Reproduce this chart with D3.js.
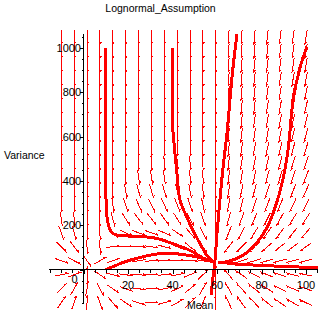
<!DOCTYPE html>
<html><head><meta charset="utf-8">
<script src="https://cdn.jsdelivr.net/npm/d3@7"></script>
<style>
body{margin:0;background:#fff}
svg{display:block}
text{font-family:"Liberation Sans",Arial,Helvetica,sans-serif;fill:#000}
</style>
</head><body>
<svg id="chart" width="322" height="322"></svg>
<script>
// ---------- data ----------
const title = "Lognormal_Assumption";
const xLabel = "Mean";
const yLabel = "Variance";
const xTickLabels = [0, 20, 40, 60, 80, 100];
const yTickLabels = [200, 400, 600, 800, 1000];

// direction-field grid (means across, variances up)
const gridMeans = [-10, -4.21, 1.58, 7.37, 13.16, 18.95, 24.74, 30.53, 36.32, 42.11,
                   47.89, 53.68, 59.47, 65.26, 71.05, 76.84, 82.63, 88.42, 94.21, 100];
const gridVariances = [-150, -86.8, -23.7, 39.5, 102.6, 165.8, 228.9, 292.1, 355.3, 418.4,
                       481.6, 544.7, 607.9, 671.1, 734.2, 797.4, 860.5, 923.7, 986.8, 1050];
// flow direction (degrees, 0 = right, 90 = up), one row per variance level
const fieldAngles = [
  [55, 70, 85, -70, -50, -35, -18, 0, 15, 30, 45, 65, 90, 115, 125, 134, 140, 146, 150, 154],
  [45, 60, 80, -62, -35, -20, -8, 3, 12, 25, 38, 60, 90, 120, 132, 142, 148, 153, 157, 160],
  [12, 20, 90, -35, -15, -8, -4, 0, 5, 12, 22, 43, 90, 130, 145, 152, 158, 162, 165, 168],
  [-20, -27, -55, 30, 18, 14, 10, 6, 3, 0, -3, -9, -90, -160, -162, -163, -164, -165, -165, -166],
  [-45, -53, -88, -85, 5, 0, -3, -8, -15, -22, -40, -55, -90, -128, -135, -138, -140, -142, -143, -144],
  [-70, -75, -90, -88, -45, -25, -20, -20, -24, -35, -50, -62, -90, -112, -118, -122, -125, -127, -129, -130],
  [-82, -85, -90, -90, -75, -58, -52, -52, -55, -58, -63, -72, -90, -105, -110, -114, -117, -119, -121, -123],
  [-90, -90, -90, -90, -82, -72, -66, -65, -66, -68, -72, -78, -90, -101, -105, -108, -111, -113, -115, -117],
  [-90, -90, -90, -90, -90, -80, -75, -74, -75, -77, -80, -83, -90, -99, -102, -105, -108, -110, -112, -114],
  [-90, -90, -90, -90, -90, -90, -82, -81, -82, -84, -85, -87, -90, -98, -100, -103, -105, -107, -109, -111],
  [-90, -90, -90, -90, -90, -90, -90, -86, -86, -87, -88, -89, -90, -97, -99, -101, -103, -105, -107, -109],
  [-90, -90, -90, -90, -90, -90, -90, -90, -90, -90, -90, -90, -90, -96, -98, -100, -102, -104, -105, -107],
  [-90, -90, -90, -90, -90, -90, -90, -90, -90, -90, -90, -90, -90, -95, -97, -99, -100, -102, -104, -105],
  [-90, -90, -90, -90, -90, -90, -90, -90, -90, -90, -90, -90, -90, -95, -96, -98, -99, -101, -102, -104],
  [-90, -90, -90, -90, -90, -90, -90, -90, -90, -90, -90, -90, -90, -94, -96, -97, -99, -100, -101, -103],
  [-90, -90, -90, -90, -90, -90, -90, -90, -90, -90, -90, -90, -90, -94, -95, -97, -98, -99, -100, -102],
  [-90, -90, -90, -90, -90, -90, -90, -90, -90, -90, -90, -90, -90, -94, -95, -96, -97, -99, -100, -101],
  [-90, -90, -90, -90, -90, -90, -90, -90, -90, -90, -90, -90, -90, -93, -95, -96, -97, -98, -99, -100],
  [-90, -90, -90, -90, -90, -90, -90, -90, -90, -90, -90, -90, -90, -93, -94, -95, -96, -97, -98, -99],
  [-90, -90, -90, -90, -90, -90, -90, -90, -90, -90, -90, -90, -90, -93, -94, -95, -96, -97, -98, -99]
];

// solution curves [mean, variance]
const curveA = [[10,1000],[10.1,600],[10.1,325],[10.6,235],[11.9,180],[14,158],[18,152],[25,150],[33,140],[40,117],[47.9,86],[53.7,52],[59,32]];
const curveB = [[40,1000],[40,660],[40.7,569],[42,433],[43.4,312],[46.5,235],[49.2,176],[52.4,117],[55.5,63],[58.5,34]];
const curveC = [[10,0],[14,16],[17.8,32],[25.4,54],[33,70],[40.2,72],[47.9,63],[53.7,50],[58.5,35]];
const curveD = [[100.4,1005],[97.3,912],[94.2,763],[91.9,537],[89.2,388],[86.1,280],[82.5,190],[78,122],[73.5,77],[69,50],[63.6,34],[60.5,31]];
const curveE = [[105.5,8],[95,12],[85,16],[75,21],[68,25],[64,30],[61.5,32]];
const curveF = [[69,1062],[67.2,912],[65.8,763],[64.5,614],[62.7,460],[61.3,312],[60,163],[59.1,41],[58.2,-36],[57.3,-117]];
const curves = [curveA, curveB, curveC, curveD, curveE, curveF];

// ---------- drawing ----------
const svg = d3.select("#chart");
const x = d3.scaleLinear().domain([0, 100]).range([83.5, 306]);
const y = d3.scaleLinear().domain([0, 1000]).range([269.5, 48]);
const red = "#ff0000";

// direction field
const cw = Math.abs(x(gridMeans[1]) - x(gridMeans[0]));
const ch = Math.abs(y(gridVariances[1]) - y(gridVariances[0]));
const field = svg.append("g").attr("stroke", red).attr("stroke-width", 1)
  .attr("fill", "none").attr("shape-rendering", "crispEdges");
gridVariances.forEach((v, j) => {
  gridMeans.forEach((m, i) => {
    const a = fieldAngles[j][i] * Math.PI / 180;
    const dx = Math.cos(a), dy = -Math.sin(a);
    const L = 1 / Math.sqrt((dx / cw) ** 2 + (dy / ch) ** 2);
    const cx = x(m), cy = y(v);
    const hx = cx + dx * L / 2, hy = cy + dy * L / 2;
    const tx = cx - dx * L / 2, ty = cy - dy * L / 2;
    const b = a + Math.PI * 0.8;
    const bx = hx + Math.cos(b) * 2.5, by = hy - Math.sin(b) * 2.5;
    field.append("path").attr("d", `M${tx},${ty}L${hx},${hy}L${bx},${by}`);
  });
});

// solution curves
const line = d3.line().x(d => x(d[0])).y(d => y(d[1])).curve(d3.curveCatmullRom.alpha(0.5));
svg.append("g").selectAll("path").data(curves).join("path")
  .attr("d", line).attr("fill", "none").attr("stroke", red)
  .attr("stroke-width", 3).attr("stroke-linejoin", "round")
  .attr("shape-rendering", "crispEdges");

// axes
const axes = svg.append("g").attr("stroke", "#000").attr("stroke-width", 1)
  .attr("shape-rendering", "crispEdges");
axes.append("line").attr("x1", x(-15.5)).attr("x2", x(105.5)).attr("y1", y(0)).attr("y2", y(0));
axes.append("line").attr("x1", x(0)).attr("x2", x(0)).attr("y1", y(-153)).attr("y2", y(1063));
d3.range(-15, 106, 5).forEach(t => {
  const len = t % 20 === 0 ? 4 : 3;
  axes.append("line").attr("x1", Math.round(x(t)) + 0.5).attr("x2", Math.round(x(t)) + 0.5)
    .attr("y1", y(0)).attr("y2", y(0) + len);
});
d3.range(-150, 1051, 50).forEach(t => {
  const len = t % 200 === 0 ? 4 : 2;
  axes.append("line").attr("x1", x(0) - len).attr("x2", x(0))
    .attr("y1", Math.round(y(t)) + 0.5).attr("y2", Math.round(y(t)) + 0.5);
});

// tick labels
const fs = "11px";
xTickLabels.forEach(t => {
  svg.append("text").attr("x", t === 0 ? x(0) - 9 : x(t)).attr("y", t === 0 ? 283 : 288.5)
    .attr("text-anchor", "middle").style("font-size", fs).text(t);
});
yTickLabels.forEach(t => {
  svg.append("text").attr("x", 81).attr("y", y(t) + 4)
    .attr("text-anchor", "end").style("font-size", fs).text(t);
});

// titles
svg.append("text").attr("x", 160.5).attr("y", 12).attr("text-anchor", "middle")
  .style("font-size", "10.5px").text(title);
svg.append("text").attr("x", 4).attr("y", 159).style("font-size", "10.5px").text(yLabel);
svg.append("text").attr("x", 187).attr("y", 309).style("font-size", "10.5px").text(xLabel);
</script>
</body></html>
